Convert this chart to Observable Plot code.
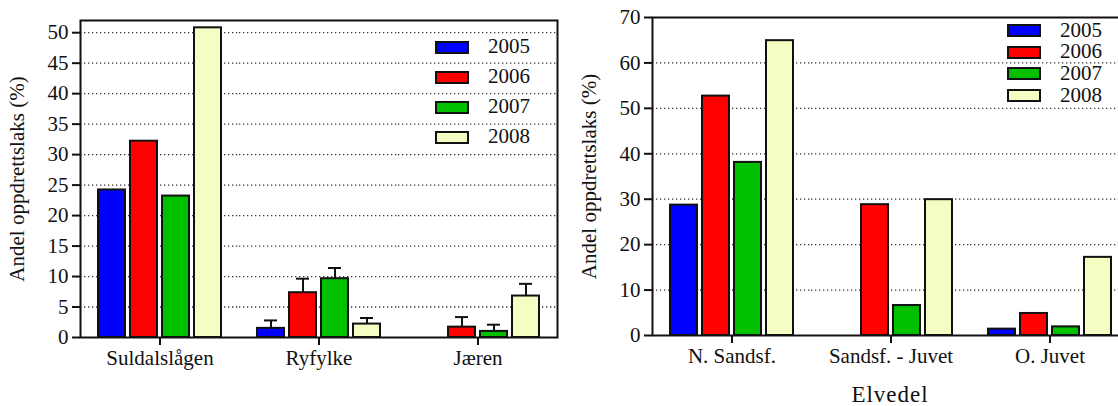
<!DOCTYPE html>
<html>
<head>
<meta charset="utf-8">
<script src="https://cdn.jsdelivr.net/npm/d3@7"></script>
<script src="https://cdn.jsdelivr.net/npm/@observablehq/plot@0.6"></script>
<style>
  html, body { margin: 0; padding: 0; overflow: hidden; background: #fff; }
  #wrap { position: relative; width: 1144px; height: 406px; font-family: "Liberation Serif", "DejaVu Serif", serif; color: #111; }
  #wrap svg, #wrap svg text { font-family: "Liberation Serif", "DejaVu Serif", serif !important; }
  .panel { position: absolute; top: 0; }
  .legend { position: absolute; font-size: 21px; }
  .legend .sw { position: absolute; width: 30px; height: 9px; border: 2px solid #111; }
  .legend .lab { position: absolute; line-height: 1; }
  #xlab { position: absolute; font-size: 23px; letter-spacing: 1px; text-align: center; }
</style>
</head>
<body>
<div id="wrap"></div>
<script>
// ---- data ----
const years = ["2005", "2006", "2007", "2008"];
const colors = ["#0000ff", "#ff0000", "#00c000", "#f3fec3"];

const leftGroups = ["Suldalslågen", "Ryfylke", "Jæren"];
const left2005 = [24.2, 1.5, null];
const left2006 = [32.2, 7.35, 1.7];
const left2007 = [23.2, 9.65, 1.0];
const left2008 = [50.8, 2.2, 6.8];
const leftErr2005 = [null, 1.3, null];
const leftErr2006 = [null, 2.3, 1.65];
const leftErr2007 = [null, 1.75, 1.1];
const leftErr2008 = [null, 1.0, 2.0];
const leftTicks = [0, 5, 10, 15, 20, 25, 30, 35, 40, 45, 50];

const rightGroups = ["N. Sandsf.", "Sandsf. - Juvet", "O. Juvet"];
const right2005 = [28.7, null, 1.4];
const right2006 = [52.7, 28.8, 4.85];
const right2007 = [38.1, 6.6, 1.9];
const right2008 = [64.9, 29.9, 17.2];
const rightTicks = [0, 10, 20, 30, 40, 50, 60, 70];

const yLabel = "Andel oppdrettslaks (%)";
const xLabelRight = "Elvedel";

// ---- build ----
const FONT = "'Liberation Serif', serif";

function rows(groups, values, errs) {
  const out = [];
  groups.forEach((g, i) => years.forEach((y, j) => {
    const v = values[j][i];
    if (v != null) out.push({group: g, year: y, value: v, err: errs ? errs[j][i] : null});
  }));
  return out;
}

function panel({groups, values, errs, yMax, ticks, marginTop, marginBottom}) {
  const data = rows(groups, values, errs);
  const errData = data.filter(d => d.err != null);
  const grid = ticks.filter(t => t > 0 && t < yMax);
  return Plot.plot({
    width: 572, height: 406,
    marginLeft: 79, marginRight: 15, marginTop, marginBottom,
    style: {fontFamily: FONT, fontSize: "20px", color: "#111", background: "transparent", overflow: "visible"},
    fx: {domain: groups, padding: 0, label: null},
    x: {domain: years, paddingInner: 0.17, paddingOuter: 0.53, axis: null},
    y: {domain: [0, yMax], label: null},
    color: {domain: years, range: colors},
    marks: [
      Plot.gridY(grid, {stroke: "#333", strokeOpacity: 1, strokeWidth: 1.3, strokeDasharray: "1.3,2.7"}),
      Plot.barY(data, {fx: "group", x: "year", y: "value", fill: "year", stroke: "#111", strokeWidth: 2}),
      Plot.ruleX(errData, {fx: "group", x: "year", y1: "value", y2: d => d.value + d.err, stroke: "#111", strokeWidth: 2}),
      Plot.tickY(errData, {fx: "group", x: "year", y: d => d.value + d.err, insetLeft: 7, insetRight: 7, stroke: "#111", strokeWidth: 2}),
      Plot.frame({facet: "super", stroke: "#111", strokeWidth: 2}),
      Plot.axisY({ticks, tickSize: 8, tickPadding: 4, strokeWidth: 2, fontSize: 21, fontFamily: FONT,
        label: yLabel, labelAnchor: "center", labelOffset: 71, labelArrow: "none"}),
      Plot.axisFx({anchor: "bottom", tickSize: 8, tickPadding: 5, strokeWidth: 2, fontSize: 21, fontFamily: FONT, label: null})
    ]
  });
}

const wrap = document.getElementById("wrap");

function place(node, left) {
  const d = document.createElement("div");
  d.className = "panel";
  d.style.left = left + "px";
  d.appendChild(node);
  wrap.appendChild(d);
}

place(panel({groups: leftGroups, values: [left2005, left2006, left2007, left2008],
  errs: [leftErr2005, leftErr2006, leftErr2007, leftErr2008],
  yMax: 52, ticks: leftTicks, marginTop: 20, marginBottom: 69}), 0);

place(panel({groups: rightGroups, values: [right2005, right2006, right2007, right2008],
  errs: null, yMax: 70, ticks: rightTicks, marginTop: 17, marginBottom: 71}), 572);

function legend(left, top, gap) {
  const lg = document.createElement("div");
  lg.className = "legend";
  lg.style.left = left + "px";
  lg.style.top = top + "px";
  years.forEach((y, i) => {
    const sw = document.createElement("div");
    sw.className = "sw";
    sw.style.left = "0px";
    sw.style.top = (i * gap - 6.5) + "px";
    sw.style.background = colors[i];
    lg.appendChild(sw);
    const lab = document.createElement("div");
    lab.className = "lab";
    lab.style.left = "53px";
    lab.style.top = (i * gap - 11) + "px";
    lab.textContent = y;
    lg.appendChild(lab);
  });
  wrap.appendChild(lg);
}
legend(435, 47, 30);
legend(1007, 30.5, 21.7);

const xl = document.createElement("div");
xl.id = "xlab";
xl.style.left = "651px";
xl.style.width = "478px";
xl.style.top = "382px";
xl.textContent = xLabelRight;
wrap.appendChild(xl);
</script>
</body>
</html>
